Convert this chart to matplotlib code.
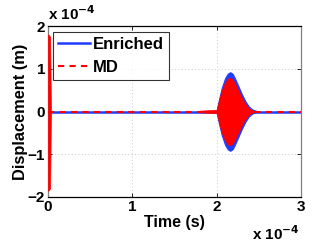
import matplotlib
matplotlib.use("Agg")
import matplotlib.pyplot as plt
import numpy as np

plt.rcParams['font.family'] = ['Liberation Sans', 'DejaVu Sans']

# Data (time in units of 1e-4 s, displacement in units of 1e-4 m)
series_names = ["Enriched", "MD"]
x_ticks = [0, 1, 2, 3]
y_ticks = [-2, -1, 0, 1, 2]
y_tick_labels = ["\u22122", "\u22121", "0", "1", "2"]

# baseline (zero displacement between events)
base_t = [0.0, 3.0]
base_u = [0.0, 0.0]

# initial pulse envelope (red dominates)
pulse_t = [0.0, 0.005, 0.025, 0.035]
pulse_up_md = [1.8, 1.8, 1.75, 0.0]
pulse_lo_md = [-1.85, -1.85, -1.8, 0.0]
pulse_up_en = [1.75, 1.75, 0.0, 0.0]
pulse_lo_en = [-1.75, -1.75, 0.0, 0.0]

# wave packet envelope, Enriched (blue)
pkt_t_en = [1.95, 2.00, 2.03, 2.06, 2.10, 2.13, 2.16, 2.19, 2.22, 2.26, 2.30, 2.34, 2.38, 2.42, 2.46, 2.50]
pkt_en = [0.0, 0.03, 0.30, 0.55, 0.78, 0.88, 0.92, 0.88, 0.76, 0.58, 0.40, 0.24, 0.12, 0.05, 0.02, 0.0]

# wave packet envelope, MD (red)
pkt_t_md = [1.80, 1.90, 2.00, 2.03, 2.06, 2.10, 2.13, 2.16, 2.19, 2.22, 2.26, 2.30, 2.34, 2.38, 2.42, 2.45]
pkt_md = [0.02, 0.03, 0.04, 0.28, 0.50, 0.68, 0.77, 0.79, 0.75, 0.64, 0.48, 0.32, 0.18, 0.08, 0.03, 0.0]

blue = "#1f3cff"
red = "#ff0000"
FS = 11

fig = plt.figure(figsize=(3.32, 2.44), dpi=100)
ax = fig.add_axes([48/332, 1-197/244, (301-48)/332, (197-26)/244])

ax.grid(True, color="#b8b8b8", linestyle=(0, (1, 3)), linewidth=0.6)
ax.set_axisbelow(True)

# Enriched
ax.plot(base_t, base_u, color=blue, lw=1.8, label=series_names[0], zorder=2)
ax.fill_between(pkt_t_en, [-v for v in pkt_en], pkt_en, color=blue, lw=0.8, edgecolor=blue, zorder=2)
ax.fill_between(pulse_t, pulse_lo_en, pulse_up_en, color=blue, lw=0.5, zorder=2)

# MD
ax.plot(base_t, base_u, color=red, lw=1.5, ls=(0, (3, 2.5)), label=series_names[1], zorder=3)
ax.fill_between(pkt_t_md, [-v for v in pkt_md], pkt_md, color=red, lw=0.5, edgecolor=red, zorder=3)
ax.fill_between(pulse_t, pulse_lo_md, pulse_up_md, color=red, lw=0.5, zorder=3)

ax.set_xlim(0, 3)
ax.set_ylim(-2, 2)
ax.set_xticks(x_ticks)
ax.set_xticklabels([str(v) for v in x_ticks], fontweight='bold', fontsize=FS)
ax.set_yticks(y_ticks)
ax.set_yticklabels(y_tick_labels, fontweight='bold', fontsize=FS)
ax.tick_params(direction='in', length=3, width=0.6, pad=2, top=True, right=True,
               labeltop=False, labelright=False)

for side in ['top', 'bottom']:
    ax.spines[side].set_color('black')
    ax.spines[side].set_linewidth(0.9)
for side in ['left', 'right']:
    ax.spines[side].set_color('#808080')
    ax.spines[side].set_linewidth(0.9)

ax.set_xlabel("Time (s)", fontweight='bold', fontsize=FS + 0.5, labelpad=1)
ax.set_ylabel("Displacement (m)", fontweight='bold', fontsize=FS + 0.8, labelpad=0)

fig.text(48/332, 1-20/244, r"x 10$^{\mathbf{-4}}$", fontweight='bold', fontsize=FS,
         ha='left', va='baseline')
fig.text(300/332, 1-240/244, r"x 10$^{\mathbf{-4}}$", fontweight='bold', fontsize=FS,
         ha='right', va='baseline')

leg = ax.legend(loc='upper left', bbox_to_anchor=(5/253, 1-6/171), prop={'weight': 'bold', 'size': FS + 1},
                frameon=True, fancybox=False, edgecolor='black', handlelength=1.9,
                handletextpad=0.2, borderpad=0.3, labelspacing=0.5, borderaxespad=0)
leg.get_frame().set_linewidth(0.8)

fig.savefig("out.png", dpi=100)
